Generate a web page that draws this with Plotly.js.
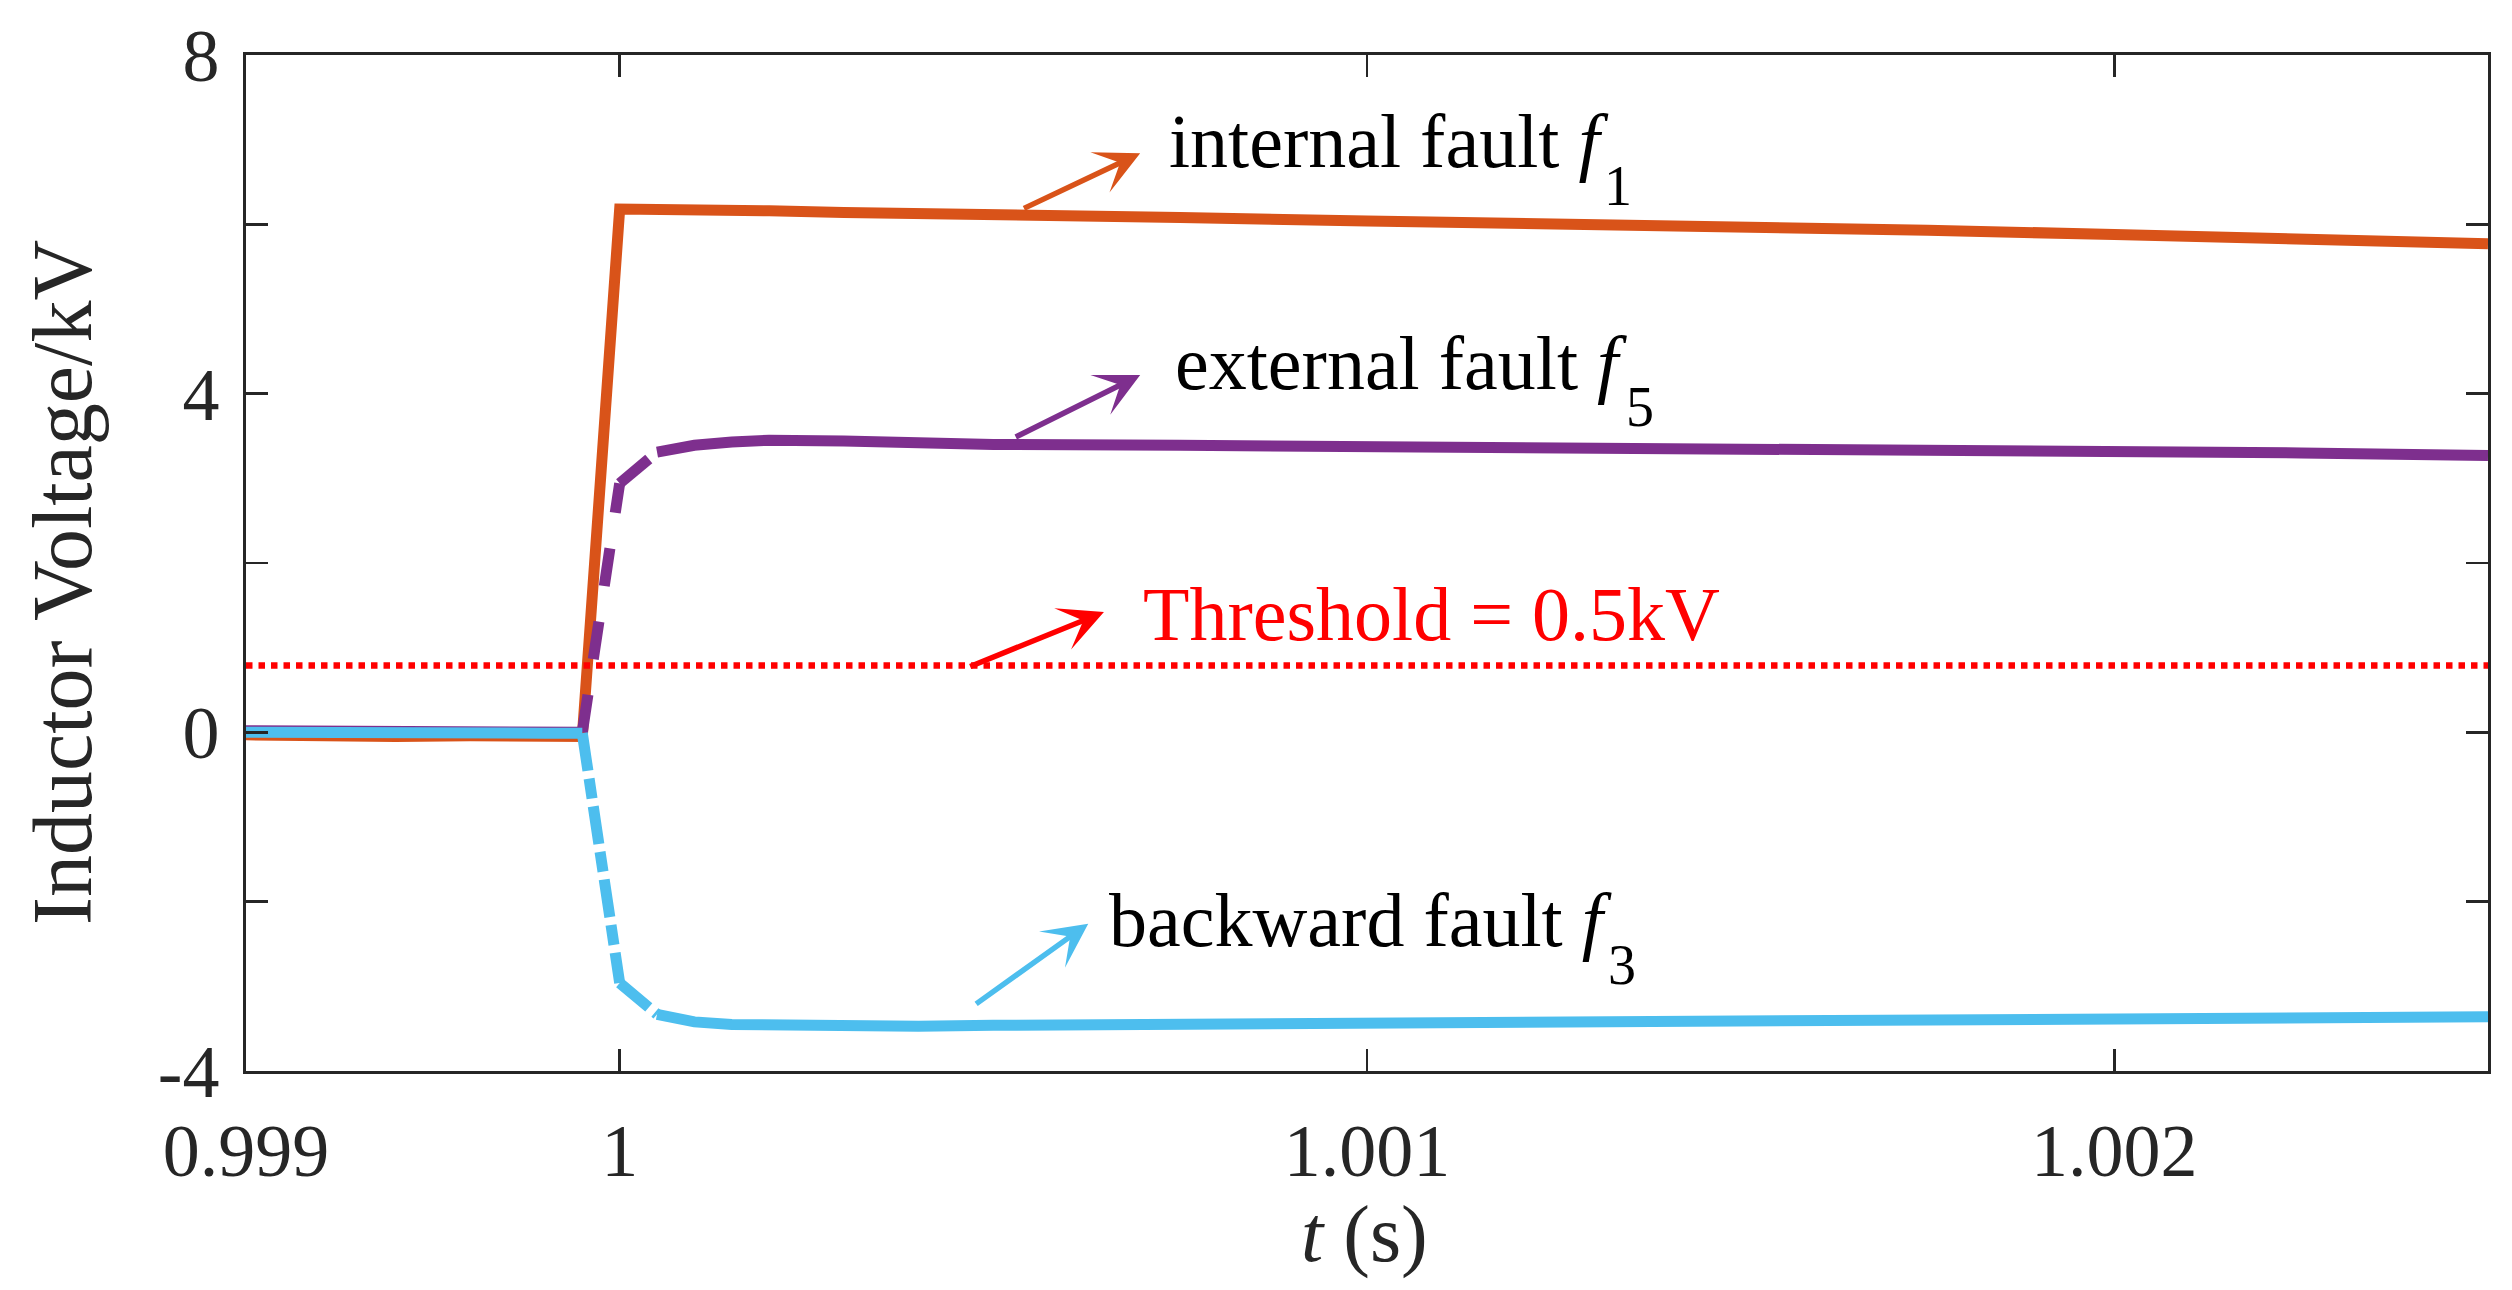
<!DOCTYPE html>
<html>
<head>
<meta charset="utf-8">
<script src="https://cdn.plot.ly/plotly-3.0.1.min.js"></script>
<style>html,body{margin:0;padding:0;background:#fff;}#chart{width:2512px;height:1290px;}</style>
</head>
<body>
<div id="chart"></div>
<script>
// time samples (s)
const t = [0.9995, 0.9996, 0.9997, 0.9998, 0.9999, 0.99995, 1.0, 1.00005, 1.0001, 1.00015, 1.0002, 1.0003, 1.0004, 1.0005, 1.00075, 1.001, 1.00125, 1.0015, 1.00175, 1.002, 1.00225, 1.0025];
// inductor voltage (kV)
const internalF1 = [-0.03, -0.05, -0.05, -0.04, -0.05, -0.05, 6.18, 6.18, 6.17, 6.17, 6.16, 6.14, 6.12, 6.11, 6.08, 6.04, 6.01, 5.98, 5.93, 5.88, 5.83, 5.77];
const externalF5 = [0.02, 0.02, 0.01, 0.01, 0.02, 0.00, 2.94, 3.31, 3.39, 3.43, 3.45, 3.44, 3.42, 3.40, 3.39, 3.38, 3.37, 3.36, 3.35, 3.33, 3.30, 3.27];
const backwardF3 = [0.00, -0.01, -0.01, 0.00, -0.01, -0.01, -2.96, -3.33, -3.42, -3.45, -3.46, -3.47, -3.47, -3.46, -3.45, -3.44, -3.44, -3.43, -3.42, -3.41, -3.39, -3.36];
const thresholdT = [0.9995, 1.0025];
const thresholdV = [0.79, 0.79];
// axis ticks
const xTickVals = [0.9995, 1.0, 1.001, 1.002];
const xTickText = ['0.999', '1', '1.001', '1.002'];
const yTickVals = [-4, 0, 4, 8];
const yTickText = ['-4', '0', '4', '8'];

const C_OR = '#D95319', C_PU = '#7E2F8E', C_BL = '#4DBEEE', C_RD = '#FF0000';
const LW = 11;
const iFault = 5, iStep = 6, iNext = 7;

function seg(y, a, b, color, dash) {
  return {x: t.slice(a, b + 1), y: y.slice(a, b + 1), type: 'scatter', mode: 'lines',
    line: {color: color, width: LW, dash: dash || 'solid'}, hoverinfo: 'skip', showlegend: false};
}
const PU_DASH = '38px,36px';
const BL_DASH = '38px,8px,20px,8px';

const traces = [
  seg(internalF1, 0, t.length - 1, C_OR),
  seg(externalF5, 0, iFault, C_PU),
  seg(externalF5, iFault, iStep, C_PU, PU_DASH),
  seg(externalF5, iStep, iNext, C_PU, PU_DASH),
  seg(externalF5, iNext, t.length - 1, C_PU),
  seg(backwardF3, 0, iFault, C_BL),
  seg(backwardF3, iFault, iStep, C_BL, BL_DASH),
  seg(backwardF3, iStep, iNext, C_BL, BL_DASH),
  seg(backwardF3, iNext, t.length - 1, C_BL),
  {x: thresholdT, y: thresholdV, type: 'scatter', mode: 'lines',
   line: {color: C_RD, width: 6.5, dash: '6.5px,6px'}, hoverinfo: 'skip', showlegend: false}
];

// pixel -> paper helpers for annotation placement
const L = 246, R = 24, T = 55, B = 219, W = 2512, H = 1290;
const px = v => (v - L) / (W - L - R);
const py = v => (H - B - v) / (H - T - B);
const FONT = 'Liberation Serif, Times New Roman, serif';

function label(text, x, y, color, size, anchor) {
  return {text: text, xref: 'paper', yref: 'paper', x: px(x), y: py(y), xanchor: anchor || 'left', yanchor: 'middle',
    showarrow: false, font: {family: FONT, size: size || 76, color: color || '#000'}};
}
function arrow(color, tx, ty, hx, hy) {
  return {text: '', xref: 'x', yref: 'y', axref: 'x', ayref: 'y', x: hx, y: hy, ax: tx, ay: ty,
    showarrow: true, arrowhead: 3, arrowsize: 1.35, arrowwidth: 5.5, arrowcolor: color, standoff: 0, startstandoff: 0};
}

const annotations = [
  label('internal fault <i>f</i>', 1167, 141),
  label('1', 1618, 186, '#000', 56, 'center'),
  label('external fault <i>f</i>', 1173, 363),
  label('5', 1640, 407, '#000', 56, 'center'),
  label('Threshold = 0.5kV', 1141, 614, C_RD),
  label('backward fault <i>f</i>', 1107, 920),
  label('3', 1622, 965, '#000', 56, 'center'),
  arrow(C_OR, 1.000539, 6.18, 1.0006965, 6.84),
  arrow(C_PU, 1.000528, 3.48, 1.0006965, 4.22),
  arrow(C_RD, 1.000467, 0.77, 1.000648, 1.42),
  arrow(C_BL, 1.000475, -3.22, 1.000627, -2.26),
  {text: 'Inductor Voltage/kV', xref: 'paper', yref: 'paper', x: px(62), y: py(583), xanchor: 'center', yanchor: 'middle',
   textangle: -90, showarrow: false, font: {family: FONT, size: 84, color: '#262626'}},
  {text: '<i>t</i> (s)', xref: 'paper', yref: 'paper', x: px(1364), y: py(1234), xanchor: 'center', yanchor: 'middle',
   showarrow: false, font: {family: FONT, size: 80, color: '#262626'}}
];

const axisCommon = {
  ticks: 'inside', ticklen: 22, tickwidth: 2.7, tickcolor: '#262626',
  showline: true, linewidth: 2.7, linecolor: '#262626', mirror: 'ticks',
  showgrid: false, zeroline: false, fixedrange: true,
  tickfont: {family: FONT, size: 74, color: '#262626'}
};

const layout = {
  width: W, height: H, margin: {l: L, r: R, t: T, b: B},
  paper_bgcolor: '#fff', plot_bgcolor: '#fff', showlegend: false, hovermode: false,
  xaxis: Object.assign({}, axisCommon, {range: [0.9995, 1.0025], tickmode: 'array', tickvals: xTickVals, ticktext: xTickText,
    ticklabelstandoff: 13}),
  yaxis: Object.assign({}, axisCommon, {range: [-4, 8], tickmode: 'array', tickvals: yTickVals, ticktext: yTickText,
    ticklabelstandoff: 9,
    minor: {tickmode: 'linear', tick0: -4, dtick: 2, ticks: 'inside', ticklen: 22, tickwidth: 2.7, tickcolor: '#262626', showgrid: false}}),
  annotations: annotations
};

Plotly.newPlot('chart', traces, layout, {staticPlot: true, displayModeBar: false});
</script>
</body>
</html>
